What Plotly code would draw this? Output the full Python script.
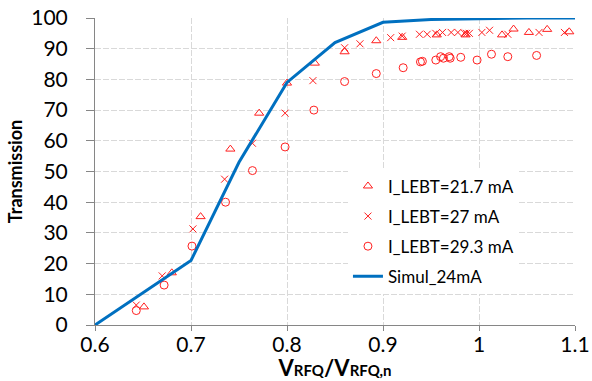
import plotly.graph_objects as go

# Simulation (24 mA)
sim_x = [0.6, 0.7, 0.75, 0.8, 0.85, 0.9, 0.95, 1.0, 1.05, 1.1]
sim_y = [0, 21, 53, 79, 92, 98.6, 99.5, 99.8, 100, 100]

# I_LEBT = 21.7 mA (triangles)
tri_x = [0.651, 0.680, 0.710, 0.741, 0.771, 0.800, 0.829, 0.860, 0.893, 0.920,
         0.956, 0.986, 1.024, 1.036, 1.052, 1.071, 1.094]
tri_y = [5.9, 17, 35.3, 57.3, 69, 78.8, 85.3, 89, 92.6, 93.7,
         94.5, 94.5, 94.5, 96.4, 95.3, 96.3, 95.5]

# I_LEBT = 27 mA (crosses)
x27_x = [0.643, 0.670, 0.702, 0.735, 0.764, 0.798, 0.827, 0.860, 0.876, 0.908,
         0.920, 0.938, 0.946, 0.955, 0.962, 0.971, 0.978, 0.985, 0.987, 0.990,
         1.003, 1.011, 1.030, 1.0625, 1.089]
x27_y = [6.5, 16, 31.3, 47.5, 59.2, 69, 79.6, 90.3, 91.6, 93.6,
         94.1, 94.7, 94.7, 95, 95.3, 95.3, 95.3, 95, 95, 95,
         95.3, 96, 94.7, 95.3, 95.3]

# I_LEBT = 29.3 mA (circles)
c29_x = [0.643, 0.672, 0.701, 0.736, 0.764, 0.798, 0.828, 0.860, 0.893, 0.921,
         0.939, 0.941, 0.955, 0.960, 0.963, 0.969, 0.970, 0.981, 0.998, 1.013,
         1.030, 1.060]
c29_y = [4.7, 13, 25.7, 40, 50.3, 58, 70, 79.3, 81.9, 83.8,
         85.7, 85.9, 86.3, 87.4, 86.9, 87.4, 86.9, 87.2, 86.3, 88.2,
         87.4, 87.8]

x_ticks = [0.6, 0.7, 0.8, 0.9, 1.0, 1.1]
x_tick_labels = ["0.6", "0.7", "0.8", "0.9", "1", "1.1"]
y_ticks = list(range(0, 101, 10))

RED = "#ff1f1f"
BLUE = "#0070c0"
FONT = "Lato, Carlito, 'Liberation Sans', sans-serif"
GRID = "#d9d9d9"
AXIS = "#868686"

fig = go.Figure()
fig.add_trace(go.Scatter(x=tri_x, y=tri_y, mode="markers", name="I_LEBT=21.7 mA",
                         legendgroup="a",
                         marker=dict(symbol="triangle-up-open", size=8, color=RED,
                                     line=dict(width=1, color=RED))))
fig.add_trace(go.Scatter(x=x27_x, y=x27_y, mode="markers", name="I_LEBT=27 mA",
                         legendgroup="b",
                         marker=dict(symbol="x-thin-open", size=7, color=RED,
                                     line=dict(width=1, color=RED))))
fig.add_trace(go.Scatter(x=c29_x, y=c29_y, mode="markers", name="I_LEBT=29.3 mA",
                         legendgroup="c",
                         marker=dict(symbol="circle-open", size=8, color=RED,
                                     line=dict(width=1, color=RED))))
fig.add_trace(go.Scatter(x=sim_x, y=sim_y, mode="lines", name="Simul_24mA",
                         legendgroup="d",
                         line=dict(color=BLUE, width=3)))

sub = "<span style='font-size:15px'>%s</span>"
x_title = "<b>V" + sub % "RFQ" + "/V" + sub % "RFQ,n" + "</b>"

fig.update_layout(
    width=592, height=381,
    margin=dict(l=95, r=17, t=18, b=56),
    paper_bgcolor="white", plot_bgcolor="white",
    font=dict(family=FONT, size=17, color="#000000"),
    showlegend=True,
    legend=dict(x=0.527, y=0.51, xanchor="left", yanchor="top",
                bgcolor="white", font=dict(size=17, family=FONT),
                itemsizing="trace", tracegroupgap=5, itemwidth=30),
    xaxis=dict(range=[0.6, 1.1], tickvals=x_ticks, ticktext=x_tick_labels,
               showgrid=True, gridcolor=GRID, griddash="6px,2px", gridwidth=1,
               showline=True, linecolor=AXIS, linewidth=1,
               ticks="outside", ticklen=5, tickcolor=AXIS, ticklabelstandoff=-4,
               zeroline=False, tickfont=dict(size=21), automargin=False,
               title=dict(text=x_title, font=dict(size=22), standoff=7)),
    yaxis=dict(range=[0, 100], tickvals=y_ticks,
               showgrid=True, gridcolor=GRID, griddash="6px,2px", gridwidth=1,
               showline=True, linecolor=AXIS, linewidth=1,
               ticks="outside", ticklen=8, tickcolor=AXIS, ticklabelstandoff=14,
               zeroline=False, tickfont=dict(size=21), automargin=False,
               title=dict(text="<b>Transmission</b>", font=dict(size=18), standoff=3)),
)

fig.write_html("out.html", post_script="document.body.style.margin='0';",
               config={"displayModeBar": False})
